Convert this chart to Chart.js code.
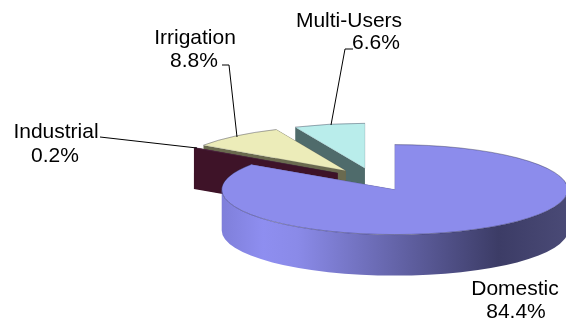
<!DOCTYPE html>
<html>
<head>
<meta charset="utf-8">
<title>Water use by sector</title>
<script src="https://cdn.jsdelivr.net/npm/chart.js@4"></script>
<style>
    html, body { margin: 0; padding: 0; background: #fff; }
    canvas { display: block; }
</style>
</head>
<body>
<canvas id="pieChart" width="566" height="322"></canvas>
<script>
const categories = ['Domestic', 'Industrial', 'Irrigation', 'Multi-Users'];
const shares = [84.4, 0.2, 8.8, 6.6];

const topColors = ['#8C8CEC', '#5A1F3F', '#ECECB9', '#B9EDEB'];
const wallColors = ['#8C8CEC', '#3E1328', '#6A6A4F', '#4F6B6B'];

// where each label's two lines sit: [name x, name baseline, value x, value baseline]
const labelSpots = [
    [515, 295, 516, 318],
    [56, 138, 55, 162],
    [195, 44, 194, 67],
    [349, 27, 376, 49]
];
const leaderLines = [
    [],
    [[100, 137], [197, 148]],
    [[222, 65], [229, 65], [237, 137]],
    [[353, 49], [345, 49], [331, 125]]
];

const tilt = 0.26;      // vertical squash of the pie plane
const depth = 41;       // height of the pie wall in px
const explode = 44;     // how far every slice is pulled out of the centre

function slicePath(ctx, arc) {
    ctx.beginPath();
    ctx.moveTo(arc.x, arc.y);
    ctx.arc(arc.x, arc.y, arc.outerRadius, arc.startAngle, arc.endAngle);
    ctx.closePath();
}

function wallFill(ctx, arc, index) {
    if (index !== 0) {
        return wallColors[index];
    }
    // shaded side of the big slice
    const grad = ctx.createLinearGradient(arc.x - arc.outerRadius, 0, arc.x + arc.outerRadius, 0);
    grad.addColorStop(0, '#7F7FDA');
    grad.addColorStop(0.12, '#8E8EF0');
    grad.addColorStop(0.22, '#8A8AE8');
    grad.addColorStop(0.8, '#3C3C66');
    grad.addColorStop(1, '#4A4A76');
    return grad;
}

// radial sides and rim of a slice, all in the squashed plane
function fillWalls(ctx, arc) {
    const drop = depth / tilt;
    const r = arc.outerRadius;
    [arc.startAngle, arc.endAngle].forEach(angle => {
        const ox = arc.x + Math.cos(angle) * r;
        const oy = arc.y + Math.sin(angle) * r;
        ctx.beginPath();
        ctx.moveTo(arc.x, arc.y);
        ctx.lineTo(ox, oy);
        ctx.lineTo(ox, oy + drop);
        ctx.lineTo(arc.x, arc.y + drop);
        ctx.closePath();
        ctx.fill();
    });
    // only the front half of the rim can be seen
    const from = Math.max(arc.startAngle, 0);
    const to = Math.min(arc.endAngle, Math.PI);
    if (from < to) {
        ctx.beginPath();
        ctx.arc(arc.x, arc.y, r, from, to);
        ctx.arc(arc.x, arc.y + drop, r, to, from, true);
        ctx.closePath();
        ctx.fill();
    }
}

const tiltedPie = {
    id: 'tiltedPie',
    beforeDatasetDraw(chart, args) {
        const ctx = chart.ctx;
        const arcs = args.meta.data;
        // back slices first so the big one ends up in front
        for (let i = arcs.length - 1; i >= 0; i--) {
            const arc = arcs[i];
            const mid = (arc.startAngle + arc.endAngle) / 2;

            ctx.save();
            ctx.translate(0, arc.y * (1 - tilt));
            ctx.scale(1, tilt);
            ctx.translate(Math.cos(mid) * explode, Math.sin(mid) * explode);
            ctx.fillStyle = wallFill(ctx, arc, i);
            fillWalls(ctx, arc);
            arc.draw(ctx);

            const pieMatrix = ctx.getTransform();
            slicePath(ctx, arc);
            ctx.setTransform(1, 0, 0, 1, 0, 0);
            ctx.strokeStyle = 'rgba(50, 50, 70, 0.25)';
            ctx.lineWidth = 0.6;
            ctx.stroke();

            // darker seam along the rim only
            ctx.setTransform(pieMatrix);
            ctx.beginPath();
            ctx.arc(arc.x, arc.y, arc.outerRadius, arc.startAngle, arc.endAngle);
            ctx.setTransform(1, 0, 0, 1, 0, 0);
            ctx.strokeStyle = 'rgba(30, 30, 60, 0.45)';
            ctx.stroke();
            ctx.restore();
        }
        return false;
    },
    afterDraw(chart) {
        const ctx = chart.ctx;
        ctx.save();
        ctx.strokeStyle = '#000';
        ctx.lineWidth = 1;
        leaderLines.forEach(points => {
            if (!points.length) return;
            ctx.beginPath();
            points.forEach((p, i) => i ? ctx.lineTo(p[0], p[1]) : ctx.moveTo(p[0], p[1]));
            ctx.stroke();
        });

        ctx.fillStyle = '#000';
        ctx.font = '21px "Liberation Sans", Arial, sans-serif';
        ctx.textAlign = 'center';
        ctx.textBaseline = 'alphabetic';
        categories.forEach((name, i) => {
            const spot = labelSpots[i];
            ctx.fillText(name, spot[0], spot[1]);
            ctx.fillText(shares[i].toFixed(1) + '%', spot[2], spot[3]);
        });
        ctx.restore();
    }
};

new Chart(document.getElementById('pieChart').getContext('2d'), {
    type: 'pie',
    data: {
        labels: categories,
        datasets: [{
            data: shares,
            backgroundColor: topColors,
            borderWidth: 0,
            radius: 173
        }]
    },
    options: {
        responsive: false,
        animation: false,
        // puts the pie centre at x 374, y 179.5
        layout: { padding: { left: 182, top: 37 } },
        plugins: { legend: { display: false }, tooltip: { enabled: false } }
    },
    plugins: [tiltedPie]
});
</script>
</body>
</html>
